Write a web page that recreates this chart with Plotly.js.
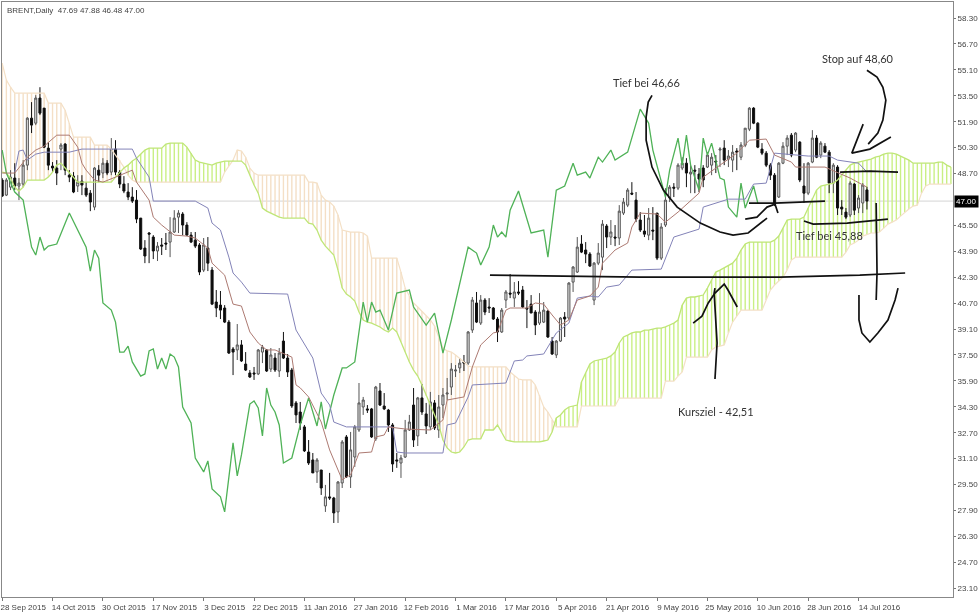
<!DOCTYPE html>
<html>
<head>
<meta charset="utf-8">
<script src="https://cdn.plot.ly/plotly-3.0.1.min.js"></script>
<style>html,body{margin:0;padding:0;background:#fff}#chart{width:980px;height:612px;filter:blur(0.4px)}</style>
</head>
<body>
<div id="chart"></div>
<script>
const openP=[48.30,47.37,47.86,48.42,47.93,48.05,49.22,52.12,51.81,53.36,52.74,50.27,49.16,49.04,50.21,50.52,48.60,48.54,47.93,48.23,47.80,47.49,46.63,48.91,48.73,49.34,48.79,50.21,48.79,48.05,47.56,47.25,47.06,45.95,44.10,45.03,44.78,43.92,44.29,44.41,44.47,45.09,46.01,46.20,45.52,44.90,44.59,44.29,42.74,44.10,42.74,40.77,40.58,40.40,39.53,37.87,37.81,38.12,36.94,36.39,36.39,36.33,37.68,37.81,36.63,37.31,36.51,38.36,37.31,36.57,34.54,33.98,33.06,31.51,31.02,30.28,30.40,28.18,28.74,28.67,27.81,29.60,32.44,29.97,31.20,32.87,34.29,34.17,34.17,32.32,35.28,34.35,34.10,33.18,31.02,30.83,31.20,32.87,34.41,32.50,34.85,33.86,33.06,34.54,32.87,34.41,35.09,35.52,36.51,36.70,37.07,37.00,39.04,40.71,39.47,40.89,40.46,40.40,39.72,38.92,40.89,41.32,41.01,41.39,41.51,40.40,40.64,40.15,39.47,39.53,40.21,38.36,37.50,38.36,39.84,39.78,42.00,42.62,44.35,43.98,43.73,40.89,43.17,43.54,45.46,44.78,44.78,44.72,46.26,46.75,47.49,47.06,45.83,45.15,44.90,45.21,46.26,43.48,45.52,47.19,47.86,47.80,49.04,49.34,48.67,48.91,48.67,49.04,49.10,49.22,49.47,50.15,50.27,49.59,49.53,50.09,49.71,50.45,51.44,52.74,51.81,50.21,49.96,49.22,48.60,47.25,49.34,50.39,51.07,50.15,50.64,47.93,47.49,49.41,50.89,49.84,50.39,50.02,48.11,49.10,46.63,46.32,46.14,48.05,46.57,46.88,47.69];
const highP=[48.42,48.42,48.91,49.34,48.42,49.53,52.18,53.11,53.54,54.03,52.74,50.64,49.41,49.53,50.58,50.58,48.91,48.79,48.60,48.60,48.17,47.68,49.10,49.22,49.65,49.53,50.89,50.76,48.91,48.54,48.11,47.86,47.68,45.95,44.59,45.09,44.90,44.47,44.72,45.03,46.01,46.44,46.44,46.32,45.70,45.09,45.09,44.41,44.72,44.78,42.93,41.51,41.45,40.58,39.66,37.99,39.41,38.42,37.68,36.57,36.76,37.87,38.12,37.87,37.93,37.62,37.93,38.92,37.56,36.70,34.66,34.60,33.18,32.25,31.45,31.14,30.40,29.48,30.22,28.74,29.72,32.25,32.56,32.75,33.18,35.77,34.91,34.41,34.23,35.59,35.77,35.15,34.17,33.30,31.45,31.33,33.49,33.80,35.46,34.91,35.71,34.54,35.22,34.72,35.03,35.46,36.08,37.00,36.88,37.31,37.50,38.98,41.08,41.39,41.20,41.01,41.01,40.46,39.84,40.40,41.51,42.50,42.00,42.06,41.76,40.89,41.20,40.27,41.32,40.77,40.27,38.61,38.42,39.84,40.15,42.00,42.99,44.78,44.90,44.47,43.85,43.24,44.41,45.83,45.58,45.83,45.52,46.75,47.19,47.80,48.17,47.56,46.32,46.14,46.57,46.63,46.26,45.64,47.80,47.99,48.11,49.34,49.71,49.65,49.22,49.22,49.04,49.22,50.02,49.96,49.84,50.33,50.76,50.15,50.46,50.27,50.64,51.50,52.80,52.80,51.87,50.58,50.09,49.34,48.73,49.41,50.64,51.07,51.20,51.26,50.70,49.34,49.41,51.38,51.07,50.70,50.58,50.15,49.34,49.22,47.06,46.57,48.23,48.11,47.37,48.11,47.88];
const lowP=[47.25,47.31,47.68,47.68,47.06,47.86,48.91,51.20,51.69,52.31,50.27,48.91,48.79,47.99,48.91,48.60,48.17,47.49,47.56,47.37,47.25,46.38,46.44,48.17,48.42,48.60,48.60,48.60,47.80,47.49,47.06,46.88,45.64,43.98,43.17,43.17,43.42,43.30,43.67,43.98,43.54,45.03,45.03,44.90,44.84,44.41,44.10,42.43,42.62,42.68,40.58,39.84,39.72,39.47,37.56,36.26,37.19,37.07,36.51,36.08,35.96,36.26,37.00,36.45,36.45,36.45,36.14,37.25,36.14,34.23,33.30,32.87,31.51,30.71,30.22,29.60,28.86,27.81,28.55,27.13,27.13,29.29,29.91,29.29,30.59,32.75,33.80,33.92,32.38,32.19,34.35,34.10,32.75,30.28,30.53,29.91,31.14,32.81,31.82,31.88,33.80,32.62,32.87,32.87,32.38,33.61,34.72,35.03,36.14,36.39,36.51,36.88,38.86,39.47,39.35,39.96,40.09,39.66,38.30,38.86,40.40,41.01,40.46,41.20,40.40,39.16,40.09,38.73,39.35,39.47,38.55,37.50,37.31,38.30,38.61,39.66,41.39,42.56,43.79,43.17,42.93,40.58,43.05,42.74,44.10,44.29,44.22,44.29,46.14,46.63,47.37,45.70,45.09,44.78,44.59,44.59,43.36,43.36,45.40,46.94,47.25,47.68,48.91,47.86,47.49,47.49,47.56,47.86,49.04,48.60,48.73,49.10,49.22,49.10,48.79,48.91,49.53,50.33,51.32,51.75,50.27,49.84,49.10,48.30,46.69,47.19,49.28,49.84,49.71,50.02,48.17,46.88,47.37,49.34,49.65,49.65,49.96,47.49,47.49,46.14,46.14,45.89,46.01,46.14,46.26,46.26,46.48];
const closeP=[47.31,48.30,48.48,47.93,48.11,49.22,52.12,51.69,53.36,52.43,50.33,49.22,49.04,48.73,50.46,48.91,48.48,47.56,48.17,47.99,47.37,46.94,49.04,48.60,49.34,48.73,50.21,48.79,48.05,47.62,47.25,47.00,45.89,44.04,43.61,44.96,43.92,44.22,44.22,44.35,45.09,45.95,46.26,45.52,44.90,44.47,44.22,42.62,44.29,43.17,40.64,40.40,40.27,39.53,37.62,37.68,38.12,37.13,36.57,36.14,36.33,37.81,37.99,36.51,37.50,36.57,37.62,37.31,36.45,34.35,33.80,33.30,31.58,30.83,30.22,31.02,29.29,28.74,28.67,27.75,29.66,32.13,29.97,31.64,33.06,34.54,34.72,34.10,32.44,35.52,34.41,34.17,33.18,30.77,30.96,31.14,32.87,33.36,32.25,34.85,33.98,33.12,34.60,32.99,34.29,35.03,35.15,36.63,36.57,37.00,37.00,38.92,40.89,39.53,40.89,40.15,40.40,39.72,38.92,40.27,41.39,41.26,41.39,41.32,40.46,40.34,40.09,39.35,40.15,40.27,38.61,37.56,38.36,39.78,39.72,41.94,42.93,44.16,43.85,43.73,42.99,43.17,43.79,45.58,44.78,45.09,44.72,46.38,46.94,47.68,47.43,45.89,45.21,44.96,45.95,45.15,43.48,45.40,47.06,47.86,47.80,49.22,49.34,48.73,48.79,48.85,48.36,48.30,49.84,49.71,49.41,50.21,49.53,49.78,50.02,50.02,50.46,51.50,52.74,51.81,50.33,49.96,49.22,48.60,46.81,49.34,50.39,50.89,49.84,51.20,48.30,47.49,49.34,50.89,49.71,50.58,50.02,48.11,49.22,46.57,46.51,46.01,48.11,46.44,47.19,47.99,47.00];

const senkouA=[48.79,48.73,48.42,47.86,47.62,47.86,48.30,48.30,48.30,48.30,
48.30,48.48,48.79,49.22,49.34,49.04,48.73,48.42,48.17,48.17,
48.17,48.17,48.17,48.17,48.17,48.17,48.17,48.48,48.73,49.04,
49.22,49.47,49.65,49.90,50.15,50.27,50.27,50.27,50.27,50.52,
50.58,50.58,50.58,50.58,50.33,49.96,49.53,49.41,49.34,49.28,
49.22,49.34,49.41,49.47,49.47,49.47,49.47,49.47,49.22,48.60,
47.99,47.49,46.57,46.38,46.26,46.14,46.01,45.95,45.95,45.95,
45.95,45.95,45.95,45.64,45.58,45.21,44.59,44.22,43.92,43.67,
42.74,41.63,41.26,41.08,40.83,40.15,39.66,39.53,39.47,39.35,
39.23,39.04,38.92,39.16,38.92,38.30,37.68,37.07,36.57,36.20,
35.65,34.97,34.41,33.80,33.18,32.25,31.76,31.51,31.45,31.51,
31.82,32.25,32.32,32.32,32.32,32.87,32.87,32.87,33.18,32.75,
32.25,32.19,32.13,32.13,32.13,32.13,32.13,32.13,32.13,32.19,
32.25,32.75,33.61,33.80,34.10,34.29,34.35,34.41,35.83,36.39,
36.94,37.13,37.19,37.25,37.31,37.44,37.68,38.24,38.61,38.73,
38.86,38.92,38.92,39.04,39.04,39.10,39.16,39.16,39.23,39.35,
39.47,39.66,40.58,41.01,41.08,41.08,41.14,41.20,41.63,42.13,
42.62,42.74,42.87,43.05,43.17,43.48,43.98,44.35,44.47,44.47,
44.47,44.47,44.47,44.47,44.59,44.84,45.33,45.83,45.89,45.89,
45.89,46.01,46.57,47.19,47.68,47.93,47.99,48.05,48.11,48.30,
48.60,48.91,49.22,49.34,49.41,49.47,49.53,49.59,49.71,49.78,
49.90,49.96,49.96,49.90,49.78,49.65,49.53,49.34,49.34,49.34,
49.34,49.34,49.34,49.41,49.41,49.22,49.10];
const senkouB=[55.51,54.47,54.03,53.66,53.66,53.66,53.66,53.66,53.66,53.66,
53.66,53.05,53.05,53.05,53.05,52.61,51.81,50.95,50.95,50.95,
50.95,50.95,50.46,50.46,50.46,50.46,50.21,49.84,49.53,49.10,
48.60,48.30,48.17,48.17,48.17,48.17,48.17,48.17,48.17,48.17,
48.17,48.17,48.17,48.17,48.17,48.17,48.17,48.17,48.17,48.17,
48.17,48.17,48.17,48.79,49.16,49.53,50.15,50.09,49.71,49.04,
48.73,48.60,48.60,48.60,48.60,48.60,48.60,48.60,48.60,48.60,
48.60,48.60,48.60,48.17,48.17,48.11,47.37,47.06,46.94,46.69,
46.14,45.21,45.15,45.09,45.09,45.09,45.03,44.84,43.48,43.48,
43.48,43.48,43.48,43.48,43.48,42.62,41.63,41.14,40.71,40.46,
40.21,39.90,39.66,39.28,38.61,37.93,37.75,37.68,37.50,37.31,
37.07,36.82,36.76,36.76,36.76,36.76,36.76,36.76,36.76,36.76,
36.76,36.45,36.26,36.02,35.96,35.96,35.96,35.65,35.03,34.29,
33.98,33.49,33.06,33.06,33.06,33.06,33.06,33.06,34.35,34.35,
34.35,34.35,34.35,34.35,34.35,34.35,34.35,34.84,34.84,34.84,
34.84,34.84,34.84,34.84,34.84,34.84,34.84,34.84,35.89,35.89,
35.89,36.20,36.45,37.37,37.37,37.37,37.37,37.37,37.37,37.81,
37.99,38.05,38.12,38.86,39.53,39.90,40.27,40.27,40.27,40.27,
40.27,40.27,40.89,41.51,41.82,42.06,42.31,42.74,43.36,43.54,
43.54,43.54,43.54,43.54,43.54,43.54,43.54,43.54,43.54,43.54,
43.54,43.85,44.29,44.41,44.59,44.84,44.96,45.03,45.03,45.09,
45.33,45.58,45.70,45.83,46.07,46.32,46.51,46.69,46.75,47.49,
47.93,48.05,48.05,48.05,48.05,48.05,48.05];

const kijunBar=[3,4,5,6,8,10,16,19,31,32,35,36,46,49,50,52,54,55,57,59,68,70,74,76,78,79,82,93,94,96,105,106,108,111,112,120,122,124,125,129,132,135,137,140,142,144,147,150,157,160,166,167,173,177,179,182,184,192,197,199,204,206];
const kijunVal=[48.79,50.09,50.15,49.53,49.90,50.02,50.02,50.21,50.21,49.65,48.48,47.00,47.00,46.57,45.64,45.21,43.54,42.56,42.00,41.32,41.26,39.04,37.31,35.15,34.41,33.36,33.06,33.06,31.51,31.45,31.45,33.18,33.30,34.91,35.65,35.77,37.13,37.19,37.44,37.56,38.86,39.47,41.01,41.14,41.08,41.69,41.82,42.74,42.80,44.78,45.27,46.63,47.12,47.12,48.05,48.11,49.96,49.78,49.78,49.53,49.34,48.79];
const tenkanBar=[0,3,6,8,10,13,16,18,19,20,22,24,27,31,32,35,36,38,41,44,46,49,50,53,55,57,59,61,63,65,69,70,71,73,76,78,81,82,83,85,88,89,91,92,96,102,105,106,110,112,114,117,118,120,121,125,127,129,131,133,135,137,140,142,143,146,149,150,152,156,158,161,166,167,175,178,182,184,188,189,196,202,206];
const tenkanVal=[48.73,48.73,49.71,50.15,50.39,51.07,51.07,50.33,49.34,48.91,48.30,48.17,48.48,48.91,48.17,47.06,46.01,45.52,44.90,44.84,44.72,44.10,43.17,42.43,40.64,40.52,38.92,38.24,37.81,37.81,37.37,35.65,35.47,34.91,33.36,31.64,29.79,29.97,30.09,31.45,31.51,32.44,32.56,33.06,32.93,32.87,33.49,34.72,34.91,36.76,38.12,38.86,38.92,40.27,40.40,40.40,40.71,40.64,39.97,39.35,39.66,40.89,41.14,41.69,43.17,43.98,44.41,45.40,46.26,46.20,45.70,46.32,47.49,48.48,49.96,50.76,50.83,49.84,49.41,49.10,49.10,48.42,47.86];
const chikouBar=[0,1,3,5,7,8,9,10,11,13,16,18,20,21,22,23,24,26,27,28,29,30,31,33,34,35,36,37,38,39,40,41,42,43,45,46,48,49,50,52,53,55,56,57,59,60,61,62,63,64,65,66,67,69,71,73,75,76,77,79,81,82,84,86,87,88,89,90,92,94,97,98,101,103,105,107,111,113,114,116,117,118,119,120,121,123,125,126,129,130,132,134,136,137,139,140,142,143,145,146,149,152,154,155,158,159,161,162,163,164,166,167,168,169,171,172,173,175,176,177,179,180];
const chikouVal=[50.15,48.73,47.56,47.06,44.16,43.67,44.78,43.98,44.22,44.35,46.26,45.21,44.16,42.68,43.98,43.48,40.71,40.27,39.53,37.68,37.68,38.05,37.07,36.20,36.33,37.75,37.87,36.63,37.31,36.63,37.56,37.37,36.76,34.29,33.30,31.14,30.28,30.96,29.23,28.74,27.81,32.07,30.03,31.33,34.47,34.66,34.23,32.50,35.46,34.41,33.98,33.18,30.83,31.14,33.18,34.85,33.12,34.60,32.93,35.03,36.70,36.70,37.07,40.77,39.53,40.77,40.15,40.27,39.04,41.32,41.51,40.46,39.35,40.09,37.62,39.66,44.16,43.79,43.05,44.16,45.52,44.78,45.09,44.78,46.44,47.62,45.83,45.03,45.21,43.54,47.68,47.93,49.34,48.60,48.79,48.42,49.71,49.41,50.15,49.53,50.02,52.68,51.81,50.15,47.25,48.91,50.89,49.22,51.07,49.22,47.68,50.89,49.84,50.58,48.42,48.30,46.63,46.01,48.11,46.57,47.93,46.88];

const strokeBar=[116.2,132.9,152,166.3,185.3,204.3,215.1,null,
154.8,153.9,153.4,153.4,154.8,157.5,160.8,166.3,171,174.1,177.7,180.1,182.2,null,
177,179.8,182.2,184.1,184.8,null,
177.9,184.1,196,null,
199.6,206.7,213.4,null,
191,193.2,201.3,211,null,
208.2,208.4,208.2,null,
206,208.4,209.8,210.5,209.8,208.6,206.3,null,
205.1,202.4,206.7,211.7,null,
204.1,204.1,204.8,206.7,208.6,211,212.7,213.4,null,
169.8,170.3,169.6,169.8,null,
164.6,166.7,168.2,169.8,172,172.9,175.1];
const strokeVal=[42.43,42.37,42.31,42.31,42.31,42.43,42.56,null,
53.53,53.11,52.18,50.76,49.10,47.68,46.63,45.64,45.09,44.90,45.03,45.52,45.95,null,
45.89,46.01,46.63,46.81,46.26,null,
46.88,46.88,47.00,null,
48.79,48.85,48.79,null,
45.77,45.58,45.64,45.89,null,
46.88,42.56,40.89,null,
55.08,54.65,54.03,53.23,52.00,51.20,50.52,null,
51.75,49.96,50.21,50.95,null,
41.20,39.66,38.86,38.30,38.86,39.66,40.89,41.63,null,
36.02,38.24,41.32,41.63,null,
39.47,39.90,40.71,41.32,41.88,41.51,40.46];

const priceTicks=[58.30,56.70,55.10,53.50,51.90,50.30,48.70,45.50,43.90,42.30,40.70,39.10,37.50,35.90,34.30,32.70,31.10,29.50,27.90,26.30,24.70,23.10];
const dateBars=[0,12,24,36,48,60,72,84,96,108,120,132,144,156,168,180,192,204];
const dateLabels=['28 Sep 2015','14 Oct 2015','30 Oct 2015','17 Nov 2015','3 Dec 2015','22 Dec 2015','11 Jan 2016','27 Jan 2016','12 Feb 2016','1 Mar 2016','17 Mar 2016','5 Apr 2016','21 Apr 2016','9 May 2016','25 May 2016','10 Jun 2016','28 Jun 2016','14 Jul 2016'];
const headerText='BRENT,Daily  47.69 47.88 46.48 47.00';
const lastPrice=47.00;
const notes=[['Tief bei 46,66',153.4,54.34],['Stop auf 48,60',203.9,55.82],['Tief bei 45,88',197,44.90],['Kursziel - 42,51',170,34.04]];

const barIdx=openP.map((_,i)=>i);
const cloudIdx=senkouA.map((_,i)=>i);
const up=cloudIdx.filter(i=>senkouA[i]>=senkouB[i]);
const down=cloudIdx.filter(i=>senkouA[i]<senkouB[i]);
const cloudBar=(idx,color)=>({type:'bar',x:idx,base:idx.map(i=>Math.min(senkouA[i],senkouB[i])),y:idx.map(i=>Math.abs(senkouA[i]-senkouB[i])),width:0.33,marker:{color:color,line:{width:0}},hoverinfo:'skip',showlegend:false});
const line=(x,y,color,w)=>({type:'scatter',mode:'lines',x:x,y:y,line:{color:color,width:w},hoverinfo:'skip',showlegend:false,connectgaps:false});

const traces=[
 cloudBar(down,'#f4dfc6'),
 cloudBar(up,'#c9ef84'),
 {type:'candlestick',x:barIdx,open:openP,high:highP,low:lowP,close:closeP,whiskerwidth:0,
  increasing:{line:{color:'#555',width:1},fillcolor:'#e4e4e4'},
  decreasing:{line:{color:'#111',width:1},fillcolor:'#0a0a0a'},hoverinfo:'skip',showlegend:false},
 line(cloudIdx,senkouB,'#f4e0c6',1.2),
 line(cloudIdx,senkouA,'#bfe677',1.3),
 line(chikouBar,chikouVal,'#4fb257',1.3),
 line(kijunBar,kijunVal,'#8383b8',1),
 line(tenkanBar,tenkanVal,'#ad7a72',1),
 line(strokeBar,strokeVal,'#111',1.7)
];

const tickFont={family:'"Liberation Sans", sans-serif',size:8,color:'#444'};
const layout={
 width:980,height:612,margin:{l:2,r:27,t:2,b:15},paper_bgcolor:'#fff',plot_bgcolor:'#fff',
 showlegend:false,barmode:'overlay',dragmode:false,
 font:tickFont,
 xaxis:{range:[-0.04,226.5],type:'linear',tickmode:'array',tickvals:dateBars,ticktext:dateLabels,tickangle:0,ticks:'outside',ticklen:3,tickcolor:'#777',
  ticklabelshift:21,ticklabelstandoff:-1,showgrid:false,zeroline:false,showline:true,linecolor:'#888',linewidth:1,mirror:true,
  rangeslider:{visible:false},tickfont:tickFont},
 yaxis:{range:[22.56,59.29],side:'right',tickmode:'array',tickvals:priceTicks,ticktext:priceTicks.map(v=>v.toFixed(2)),ticks:'outside',ticklen:2,tickcolor:'#777',
  showgrid:false,zeroline:false,showline:true,linecolor:'#888',linewidth:1,mirror:true,tickfont:tickFont},
 shapes:[{type:'line',xref:'paper',x0:0,x1:1,yref:'y',y0:lastPrice,y1:lastPrice,line:{color:'#d4d4d4',width:1},layer:'below'}],
 annotations:[
  {xref:'paper',yref:'paper',x:0.003,y:0.996,xanchor:'left',yanchor:'top',text:headerText,showarrow:false,font:tickFont},
  {xref:'paper',x:1.0012,yref:'y',y:lastPrice,xanchor:'left',yanchor:'middle',text:lastPrice.toFixed(2),showarrow:false,bgcolor:'#000',font:{family:'"Liberation Sans", sans-serif',size:8,color:'#fff'},borderpad:1}
 ].concat(notes.map(n=>({x:n[1],y:n[2],xref:'x',yref:'y',text:n[0],showarrow:false,font:{family:'Lato, sans-serif',size:11,color:'#333'}})))
};
Plotly.newPlot('chart',traces,layout,{displayModeBar:false,staticPlot:true});
</script>
</body>
</html>
